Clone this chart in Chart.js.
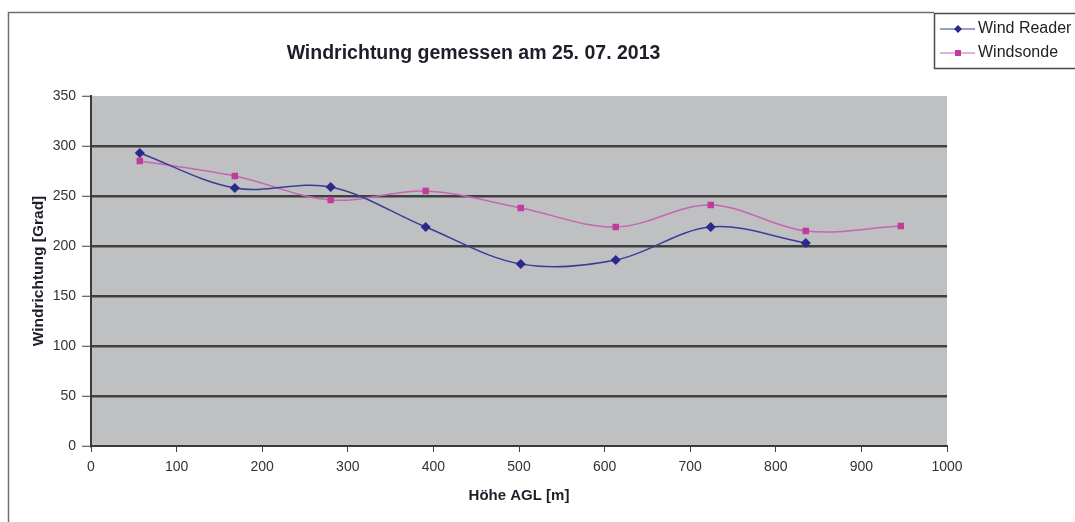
<!DOCTYPE html>
<html lang="de">
<head>
  <meta charset="UTF-8" />
  <title>Windrichtung gemessen am 25. 07. 2013</title>
  <script src="https://cdn.jsdelivr.net/npm/chart.js"></script>
  <style>
    html, body {
      margin: 0;
      padding: 0;
      background: #ffffff;
    }
    #wrap {
      width: 1075px;
      height: 522px;
    }
  </style>
</head>
<body>
  <div id="wrap"><canvas id="windChart" width="1075" height="522"></canvas></div>

  <script>
    // Höhe AGL [m] and Windrichtung [Grad]
    const readerHeights = [57, 168, 280, 391, 502, 613, 724, 835];
    const readerDirs    = [293, 258, 259, 219, 182, 186, 219, 203];

    const sondeHeights = [57, 168, 280, 391, 502, 613, 724, 835, 946];
    const sondeDirs    = [285, 270, 246, 255, 238, 219, 241, 215, 220];

    const xTicks = [0, 100, 200, 300, 400, 500, 600, 700, 800, 900, 1000];
    const yTicks = [0, 50, 100, 150, 200, 250, 300, 350];

    const seriesNames = ["Wind Reader", "Windsonde"];

    const FONT = "Arial, 'Liberation Sans', sans-serif";

    const toPoints = (xs, ys) => xs.map((x, i) => ({ x: x, y: ys[i] }));

    // grey plot area, outer frame and legend box like the old Excel chart
    const excelLook = {
      id: "excelLook",
      beforeDraw(chart) {
        const { ctx, chartArea } = chart;
        ctx.save();
        ctx.fillStyle = "#bfc0c2";
        ctx.fillRect(chartArea.left, chartArea.top, chartArea.right - chartArea.left, chartArea.bottom - chartArea.top);
        ctx.restore();
      },
      afterDraw(chart) {
        const ctx = chart.ctx;
        ctx.save();
        // frame
        ctx.strokeStyle = "#6e6e6e";
        ctx.lineWidth = 1.5;
        ctx.beginPath();
        ctx.moveTo(8.5, 522);
        ctx.lineTo(8.5, 12.5);
        ctx.lineTo(934, 12.5);
        ctx.stroke();

        // legend
        ctx.fillStyle = "#ffffff";
        ctx.fillRect(934, 13, 141, 55);
        ctx.strokeStyle = "#4a4a4a";
        ctx.lineWidth = 1.5;
        ctx.strokeRect(934.5, 13.5, 145, 55);

        const rows = [29, 53];
        chart.data.datasets.forEach((ds, i) => {
          const y = rows[i];
          ctx.strokeStyle = ds.borderColor;
          ctx.lineWidth = 1.2;
          ctx.beginPath();
          ctx.moveTo(940, y);
          ctx.lineTo(975, y);
          ctx.stroke();
          ctx.fillStyle = ds.pointBackgroundColor;
          if (ds.pointStyle === "rectRot") {
            ctx.beginPath();
            ctx.moveTo(958, y - 4);
            ctx.lineTo(962, y);
            ctx.lineTo(958, y + 4);
            ctx.lineTo(954, y);
            ctx.closePath();
            ctx.fill();
          } else {
            ctx.fillRect(955, y - 3, 6, 6);
          }
          ctx.fillStyle = "#222222";
          ctx.font = "16px " + FONT;
          ctx.textBaseline = "middle";
          ctx.textAlign = "left";
          ctx.fillText(seriesNames[i], 978, y);
        });
        ctx.restore();
      }
    };

    new Chart(document.getElementById("windChart"), {
      type: "line",
      data: {
        datasets: [
          {
            label: seriesNames[0],
            data: toPoints(readerHeights, readerDirs),
            borderColor: "#3c3c98",
            backgroundColor: "#2a2a8c",
            pointBackgroundColor: "#2a2a8c",
            pointBorderColor: "#2a2a8c",
            pointStyle: "rectRot",
            pointRadius: 4,
            borderWidth: 1.5,
            tension: 0.35
          },
          {
            label: seriesNames[1],
            data: toPoints(sondeHeights, sondeDirs),
            borderColor: "#c466b2",
            backgroundColor: "#c03c9c",
            pointBackgroundColor: "#c03c9c",
            pointBorderColor: "#c03c9c",
            pointStyle: "rect",
            pointRadius: 3.5,
            borderWidth: 1.5,
            tension: 0.35
          }
        ]
      },
      options: {
        responsive: false,
        animation: false,
        layout: {
          padding: { left: 0, right: 128, top: 0, bottom: 0 }
        },
        plugins: {
          legend: { display: false },
          tooltip: { enabled: false },
          title: {
            display: true,
            text: "Windrichtung gemessen am 25. 07. 2013",
            color: "#1e1e2a",
            font: { family: FONT, size: 19.5, weight: "bold" },
            padding: { top: 42, bottom: 30.6 }
          }
        },
        scales: {
          x: {
            type: "linear",
            min: 0,
            max: 1000,
            afterFit(scale) { scale.height = 76; },
            afterBuildTicks(scale) { scale.ticks = xTicks.map(v => ({ value: v })); },
            ticks: {
              color: "#333333",
              font: { family: FONT, size: 14 },
              padding: 7,
              maxRotation: 0,
              callback: v => String(v)
            },
            grid: {
              drawOnChartArea: false,
              drawTicks: true,
              tickLength: 6,
              tickColor: "#404040"
            },
            border: { color: "#3a3a3a", width: 2 },
            title: {
              display: true,
              text: "Höhe AGL [m]",
              color: "#1e1e2a",
              font: { family: FONT, size: 15, weight: "bold" },
              padding: { top: 0, bottom: 17 }
            }
          },
          y: {
            min: 0,
            max: 350,
            afterFit(scale) { scale.width = 91; },
            afterBuildTicks(scale) { scale.ticks = yTicks.map(v => ({ value: v })); },
            ticks: {
              color: "#333333",
              font: { family: FONT, size: 14 },
              padding: 6,
              callback: v => String(v)
            },
            grid: {
              color: ctx => (ctx.tick && (ctx.tick.value === 350 || ctx.tick.value === 0)) ? "rgba(0,0,0,0)" : "#404040",
              lineWidth: 2.5,
              tickLength: 9,
              tickColor: "#404040",
              tickWidth: 1
            },
            border: { color: "#3a3a3a", width: 2 },
            title: {
              display: true,
              text: "Windrichtung [Grad]",
              color: "#1e1e2a",
              font: { family: FONT, size: 15.5, weight: "bold" },
              padding: { top: 29, bottom: 0 }
            }
          }
        }
      },
      plugins: [excelLook]
    });
  </script>
</body>
</html>
